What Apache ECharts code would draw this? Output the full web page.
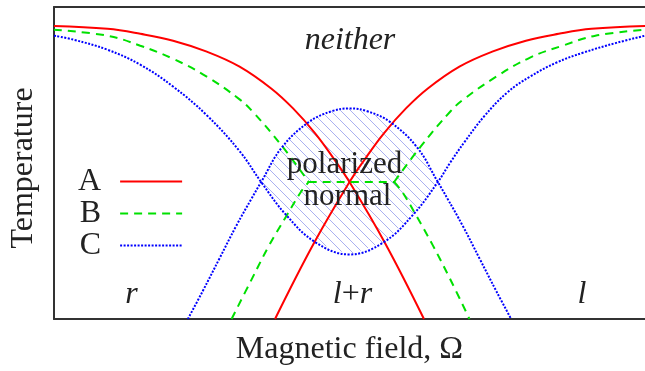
<!DOCTYPE html>
<html><head><meta charset="utf-8">
<script src="https://cdn.jsdelivr.net/npm/echarts@6/dist/echarts.min.js"></script>
<style>html,body{margin:0;padding:0;background:#fff}#c{width:645px;height:371px}</style>
</head><body><div id="c"></div>
<script>
// Curve A (red, solid): falling branch and rising branch
var aDownX = [-100, -81.9, -70.8, -59.7, -48.3, -37.2, -26.5, -19.1, -11.7, -5.7, 0, 12.1, 25.2];
var aDownY = [93.9, 93.0, 91.4, 89.2, 85.7, 80.9, 73.9, 67.5, 59.6, 51.9, 43.9, 24.2, 0];
var aUpX = [-25.2, -12.1, 0, 5.7, 11.7, 19.1, 26.5, 37.2, 48.3, 59.7, 70.8, 81.9, 100];
var aUpY = [0, 24.2, 43.9, 51.9, 59.6, 67.5, 73.9, 80.9, 85.7, 89.2, 91.4, 93.0, 93.9];
// Curve B (green, dashed)
var bDownLeftX = [-100, -81.9, -70.8, -59.7, -48.3, -37.2, -32.9, -22.8, -13.8];
var bDownLeftY = [92.7, 90.8, 87.6, 83.4, 77.7, 70.4, 66.6, 55.4, 43.9];
var bUpLeftX = [-39.9, -32.9, -27.2, -21.5, -16.4, -13.8];
var bUpLeftY = [0, 13.1, 23.6, 32.8, 40.8, 43.9];
var bFlatX = [-13.8, 15.1];
var bFlatY = [43.9, 43.9];
var bUpRightX = [15.1, 24.2, 34.2, 38.6, 49.7, 61.1, 72.1, 83.2, 100];
var bUpRightY = [43.9, 55.4, 66.6, 70.4, 77.7, 83.8, 87.6, 90.8, 92.7];
var bDownRightX = [15.1, 17.8, 22.8, 28.2, 33.9, 40.6];
var bDownRightY = [43.9, 40.8, 32.8, 23.6, 13.1, 0];
// Curve C (blue, dotted): U-shaped and cap-shaped branches
var cUX = [-100, -93.3, -81.9, -70.8, -59.7, -48.3, -37.2, -29.9, -21.5, -11.4, 0, 11.4, 21.5, 29.9, 34.2, 38.9, 45.6, 53.4, 61.1, 70.1, 79.2, 90.3, 100];
var cUY = [90.8, 89.5, 86.3, 81.5, 74.5, 65.3, 53.8, 43.9, 33.4, 24.5, 20.7, 24.5, 33.4, 43.9, 50.3, 56.7, 65.0, 72.6, 77.7, 82.2, 85.4, 88.5, 90.8];
var cCapX = [-54.7, -49.7, -44.0, -38.3, -33.2, -29.9, -22.8, -13.8, -6.0, 0, 6.0, 13.8, 22.8, 29.9, 33.2, 38.3, 44.0, 49.7, 54.7];
var cCapY = [0, 8.9, 19.4, 29.9, 38.5, 43.9, 55.1, 63.1, 66.6, 67.5, 66.6, 63.1, 55.1, 43.9, 38.5, 29.9, 19.4, 8.9, 0];
var hatchLimit = 29.9;

function zip(xs, ys) { return xs.map(function (x, i) { return [x, ys[i]]; }); }

// hatched region between the two C branches
var hatchPts = [];
cCapX.forEach(function (x, i) { if (Math.abs(x) <= hatchLimit) hatchPts.push([x, cCapY[i]]); });
var bottom = [];
cUX.forEach(function (x, i) { if (Math.abs(x) < hatchLimit) bottom.push([x, cUY[i]]); });
hatchPts = hatchPts.concat(bottom.reverse());

var pc = document.createElement('canvas');
pc.width = 10; pc.height = 10;
var g = pc.getContext('2d');
g.strokeStyle = '#aab0f0'; g.lineWidth = 1;
g.beginPath();
g.moveTo(-1, -1); g.lineTo(11, 11);
g.moveTo(-1, 9); g.lineTo(1, 11);
g.moveTo(9, -1); g.lineTo(11, 1);
g.stroke();

var SERIF = '"Liberation Serif", "DejaVu Serif", serif';
var RED = '#ff0000', GREEN = '#00e000', BLUE = '#0000ff';
var SM = 0.4;

function line(name, xs, ys, color, type) {
  return {
    name: name, type: 'line', data: zip(xs, ys), symbol: 'none', showSymbol: false,
    smooth: SM, color: color, z: 3,
    lineStyle: { color: color, width: 2, type: type, cap: 'butt' }
  };
}

var chart = echarts.init(document.getElementById('c'), null, { renderer: 'canvas' });
chart.setOption({
  animation: false,
  backgroundColor: '#fff',
  grid: { left: 53, right: -4, top: 7, bottom: 50 },
  xAxis: [{
    type: 'value', min: -100, max: 100,
    name: 'Magnetic field, \u03a9', nameLocation: 'middle', nameGap: 15,
    nameTextStyle: { fontFamily: SERIF, fontSize: 32, color: '#222' },
    axisLine: { show: true, onZero: false, lineStyle: { color: '#333', width: 2 } },
    axisTick: { show: false }, axisLabel: { show: false }, splitLine: { show: false }
  }, {
    type: 'value', min: -100, max: 100, position: 'top',
    axisLine: { show: true, onZero: false, lineStyle: { color: '#333', width: 2 } },
    axisTick: { show: false }, axisLabel: { show: false }, splitLine: { show: false }
  }],
  yAxis: {
    type: 'value', min: 0, max: 100,
    name: 'Temperature', nameLocation: 'middle', nameGap: 14, nameRotate: 90,
    nameTextStyle: { fontFamily: SERIF, fontSize: 32, color: '#222', padding: [0, 10, 0, 0] },
    axisLine: { show: true, onZero: false, lineStyle: { color: '#333', width: 2 } },
    axisTick: { show: false }, axisLabel: { show: false }, splitLine: { show: false }
  },
  legend: {
    data: ['A', 'B', 'C'], orient: 'vertical', left: 78, top: 165.5, padding: 0,
    align: 'right', itemWidth: 62, itemHeight: 14, itemGap: 0,
    itemStyle: { opacity: 0 },
    textStyle: { fontFamily: SERIF, fontSize: 32, lineHeight: 31, color: '#222', padding: [0, 14, 0, 0] }
  },
  graphic: [
    { type: 'text', x: 350, y: 41, silent: true, style: { text: 'neither', font: 'italic 32px ' + SERIF, fill: '#222', align: 'center', verticalAlign: 'middle' } },
    { type: 'text', x: 344.5, y: 165, z: 10, silent: true, style: { text: 'polarized', font: '31px ' + SERIF, fill: '#222', align: 'center', verticalAlign: 'middle' } },
    { type: 'text', x: 347.5, y: 197, z: 10, silent: true, style: { text: 'normal', font: '31px ' + SERIF, fill: '#222', align: 'center', verticalAlign: 'middle' } },
    { type: 'text', x: 131.5, y: 295, silent: true, style: { text: 'r', font: 'italic 32px ' + SERIF, fill: '#222', align: 'center', verticalAlign: 'middle' } },
    { type: 'text', x: 352.5, y: 295, silent: true, style: { text: '{i|l}+{i|r}', font: '32px ' + SERIF, fill: '#222', align: 'center', verticalAlign: 'middle', rich: { i: { fontStyle: 'italic', fontFamily: SERIF, fontSize: 32, fill: '#222' } } } },
    { type: 'text', x: 582, y: 295, silent: true, style: { text: 'l', font: 'italic 32px ' + SERIF, fill: '#222', align: 'center', verticalAlign: 'middle' } }
  ],
  series: [
    {
      name: 'hatch', type: 'custom', coordinateSystem: 'cartesian2d', z: 1, silent: true,
      data: hatchPts,
      renderItem: function (params, api) {
        if (params.dataIndex !== 0) return null;
        var pts = hatchPts.map(function (p) { return api.coord(p); });
        return { type: 'polygon', shape: { points: pts }, style: { fill: { image: pc, repeat: 'repeat' }, stroke: null } };
      }
    },
    line('A', aDownX, aDownY, RED, 'solid'),
    line('A', aUpX, aUpY, RED, 'solid'),
    line('B', bDownLeftX, bDownLeftY, GREEN, [8, 6]),
    line('B', bUpLeftX, bUpLeftY, GREEN, [8, 6]),
    line('B', bFlatX, bFlatY, GREEN, [8, 6]),
    line('B', bUpRightX, bUpRightY, GREEN, [8, 6]),
    line('B', bDownRightX, bDownRightY, GREEN, [8, 6]),
    line('C', cUX, cUY, BLUE, [2, 1.5]),
    line('C', cCapX, cCapY, BLUE, [2, 1.5])
  ]
});
</script></body></html>
